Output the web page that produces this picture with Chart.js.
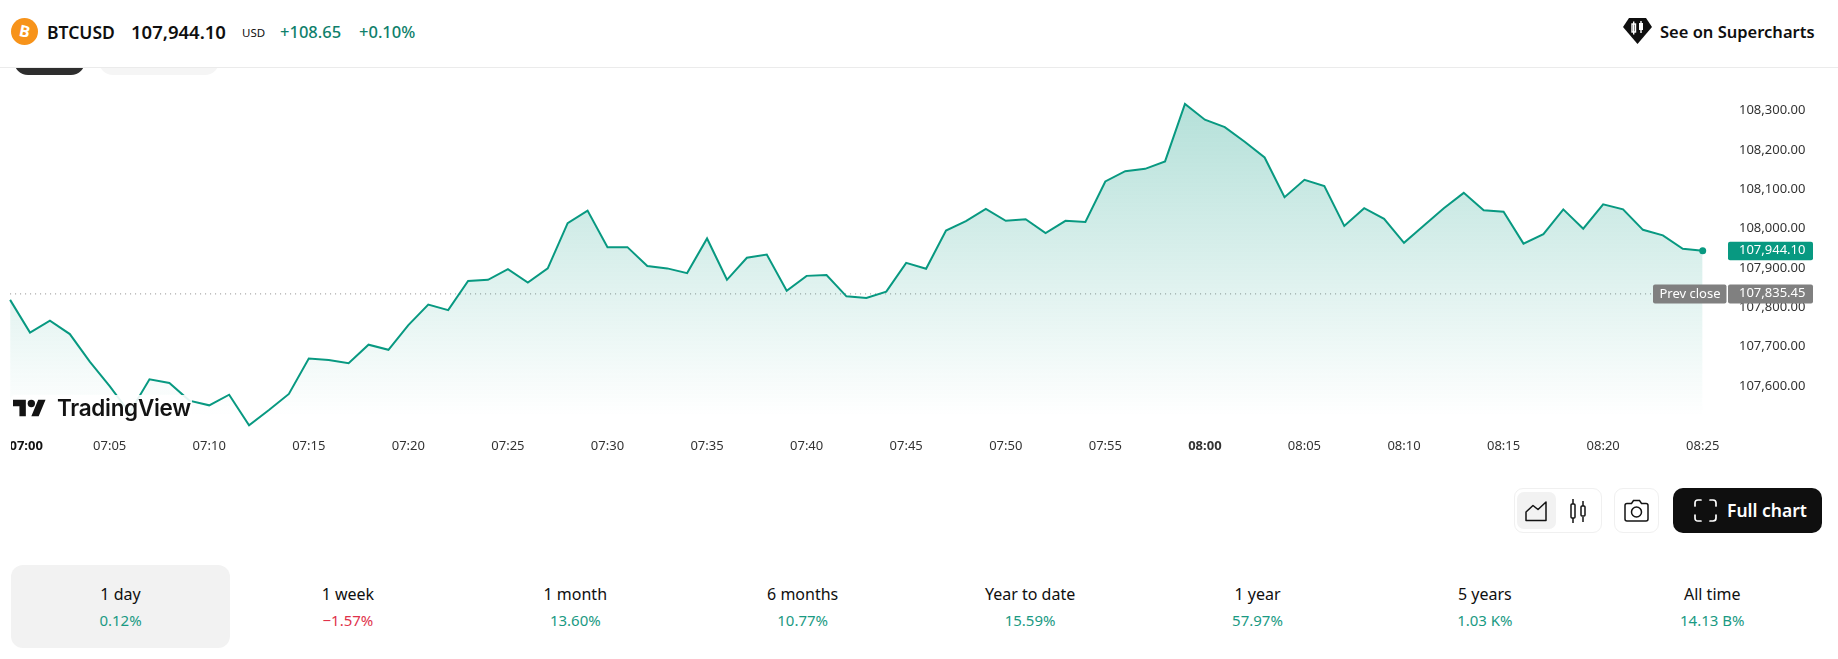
<!DOCTYPE html>
<html>
<head>
<meta charset="utf-8">
<title>BTCUSD</title>
<script src="https://cdn.jsdelivr.net/npm/chart.js@4"></script>
<style>
html, body { margin: 0; padding: 0; background: #fff; overflow: hidden; }
body { width: 1838px; height: 659px; position: relative; font-family: "Noto Sans", sans-serif; color: #0f0f0f; }
.abs { position: absolute; white-space: nowrap; }
#header { position: absolute; left: 0; top: 0; width: 1838px; height: 67px; background: #fff; border-bottom: 1px solid #ebebeb; z-index: 3; }
#chart { position: absolute; left: 0; top: 0; z-index: 1; }
.pill { position: absolute; top: 60px; height: 15px; border-radius: 0 0 14px 14px; }
#logo { position: absolute; left: 11px; top: 395px; width: 181px; height: 26px; background: rgba(255,255,255,.9); z-index: 2; border-radius: 4px; }
.group { position: absolute; top: 488px; height: 43px; border: 1px solid #f0f0f0; border-radius: 9px; background: #fff; }
.periods { position: absolute; left: 11px; top: 565px; display: flex; gap: 8.4px; }
.period { width: 219px; height: 83px; border-radius: 12px; text-align: center; }
.period.on { background: #f2f2f2; }
.period .name { margin-top: 17px; font-size: 16px; line-height: 24px; }
.period .pct { font-size: 15px; line-height: 24px; margin-top: 2px; }
</style>
</head>
<body>

<div class="pill" style="left:14px;width:71px;background:#2e2e2e"></div>
<div class="pill" style="left:99px;width:120px;background:#f5f5f5"></div>

<canvas id="chart" width="1838" height="480"></canvas>

<div id="header">
    <svg class="abs" style="left:11px;top:18px" width="27" height="27" viewBox="0 0 27 27">
        <circle cx="13.5" cy="13.5" r="13.5" fill="#f7931a"/>
        <text x="13.5" y="19" text-anchor="middle" font-size="16" font-weight="700" fill="#fff" font-family="Noto Sans" transform="rotate(12 13.5 13.5)">B</text>
    </svg>
    <span class="abs" style="left:47px;top:19px;font-size:17.5px;font-weight:600;line-height:26px">BTCUSD</span>
    <span class="abs" style="left:131px;top:19px;font-size:18.5px;font-weight:600;line-height:26px">107,944.10</span>
    <span class="abs" style="left:242px;top:24px;font-size:11.5px;line-height:18px">USD</span>
    <span class="abs" style="left:280px;top:19px;font-size:16.5px;font-weight:500;color:#0f7f6b;line-height:26px">+108.65</span>
    <span class="abs" style="left:359px;top:19px;font-size:16.5px;font-weight:500;color:#0f7f6b;line-height:26px">+0.10%</span>

    <svg class="abs" style="left:1623px;top:18px" width="29" height="26" viewBox="0 0 29 26">
        <path d="M6 0H23L29 9L14.500 26L0 9Z" fill="#0f0f0f"/>
        <rect x="9" y="6" width="3.500" height="8" fill="none" stroke="#fff" stroke-width="1.400"/>
        <path d="M10.700 3.500V16.500M18 3V15" stroke="#fff" stroke-width="1.400"/>
        <rect x="16" y="5" width="4" height="7" fill="#fff"/>
    </svg>
    <span class="abs" style="left:1660px;top:19px;font-size:16.5px;font-weight:600;line-height:26px">See on Supercharts</span>
</div>

<div id="logo">
    <svg class="abs" style="left:2px;top:1px" width="33" height="26" viewBox="0 0 36 28">
        <path d="M14 22H7V11H0V4h14v18zM28 22h-8l7.500-18h8L28 22z" fill="#131313"/>
        <circle cx="20" cy="8" r="4" fill="#131313"/>
    </svg>
    <span class="abs" style="left:46px;top:-2px;font-family:Inter;font-size:22.5px;font-weight:600;line-height:30px;color:#131313;letter-spacing:-.3px">TradingView</span>
</div>

<div class="group" style="left:1514px;width:86px"></div>
<div class="abs" style="left:1517px;top:492px;width:39px;height:37px;background:#f2f2f2;border-radius:7px"></div>
<svg class="abs" style="left:1524px;top:499px" width="24" height="24" viewBox="0 0 24 24" fill="none" stroke="#131313" stroke-width="1.500">
    <path d="M2 21.500V13L9 6.500L14 10.500L22 3V21.500Z" stroke-linejoin="round"/>
</svg>
<svg class="abs" style="left:1566px;top:498px" width="24" height="26" viewBox="0 0 24 26" fill="none" stroke="#131313" stroke-width="1.500">
    <rect x="5" y="6" width="4" height="14" rx="1"/>
    <path d="M7 1V6M7 20V25M17 3V8M17 19V24"/>
    <rect x="15" y="8" width="4" height="10" rx="1"/>
</svg>

<div class="group" style="left:1614px;width:43px"></div>
<svg class="abs" style="left:1624px;top:499px" width="25" height="24" viewBox="0 0 25 24" fill="none" stroke="#131313" stroke-width="1.500">
    <path d="M3 4.500H7.500L9.500 1.500H15.500L17.500 4.500H22Q24 4.500 24 6.500V20Q24 22 22 22H3Q1 22 1 20V6.500Q1 4.500 3 4.500Z"/>
    <circle cx="12.500" cy="13" r="5"/>
</svg>

<div class="abs" style="left:1673px;top:488px;width:149px;height:45px;background:#0f0f0f;border-radius:10px"></div>
<svg class="abs" style="left:1694px;top:499px" width="23" height="23" viewBox="0 0 23 23" fill="none" stroke="#fff" stroke-width="1.700" stroke-linecap="round">
    <path d="M1 7V4Q1 1 4 1H7M16 1H19Q22 1 22 4V7M22 16V19Q22 22 19 22H16M7 22H4Q1 22 1 19V16"/>
</svg>
<span class="abs" style="left:1727px;top:497px;font-size:17.5px;font-weight:600;color:#fff;line-height:26px">Full chart</span>

<div class="periods" id="periods"></div>

<script>
const times = [
    "07:00","07:01","07:02","07:03","07:04","07:05","07:06","07:07","07:08","07:09",
    "07:10","07:11","07:12","07:13","07:14","07:15","07:16","07:17","07:18","07:19",
    "07:20","07:21","07:22","07:23","07:24","07:25","07:26","07:27","07:28","07:29",
    "07:30","07:31","07:32","07:33","07:34","07:35","07:36","07:37","07:38","07:39",
    "07:40","07:41","07:42","07:43","07:44","07:45","07:46","07:47","07:48","07:49",
    "07:50","07:51","07:52","07:53","07:54","07:55","07:56","07:57","07:58","07:59",
    "08:00","08:01","08:02","08:03","08:04","08:05","08:06","08:07","08:08","08:09",
    "08:10","08:11","08:12","08:13","08:14","08:15","08:16","08:17","08:18","08:19",
    "08:20","08:21","08:22","08:23","08:24","08:25"
];

const prices = [
    107819, 107736, 107766, 107732, 107662, 107600, 107532, 107617, 107608, 107563,
    107551, 107578, 107500, 107539, 107580, 107670, 107666, 107658, 107705, 107692,
    107755, 107807, 107793, 107867, 107870, 107897, 107863, 107899, 108014, 108046,
    107953, 107953, 107905, 107899, 107887, 107975, 107870, 107926, 107934, 107842,
    107880, 107882, 107828, 107824, 107840, 107913, 107898, 107995, 108019, 108050,
    108020, 108024, 107989, 108020, 108017, 108120, 108146, 108152, 108171, 108317,
    108277, 108258, 108221, 108181, 108080, 108124, 108108, 108007, 108052, 108025,
    107964, 108008, 108052, 108091, 108047, 108043, 107962, 107986, 108049, 108000,
    108062, 108049, 107997, 107983, 107949, 107944.10
];

const priceTicks = [107600, 107700, 107800, 107900, 108000, 108100, 108200, 108300];
const timeTicks = [
    "07:00","07:05","07:10","07:15","07:20","07:25","07:30","07:35","07:40","07:45",
    "07:50","07:55","08:00","08:05","08:10","08:15","08:20","08:25"
];

const lastPrice = 107944.10;
const prevClose = 107835.45;

const periodNames = ["1 day", "1 week", "1 month", "6 months", "Year to date", "1 year", "5 years", "All time"];
const periodValues = ["0.12%", "\u22121.57%", "13.60%", "10.77%", "15.59%", "57.97%", "1.03 K%", "14.13 B%"];

const GREEN = '#089981';
const FONT = '"Noto Sans", sans-serif';

function fmt(v) {
    return v.toLocaleString('en-US', { minimumFractionDigits: 2, maximumFractionDigits: 2 });
}

function areaFill(ctx) {

    const area = ctx.chart.chartArea;
    if (!area) return 'transparent';

    const g = ctx.chart.ctx.createLinearGradient(0, area.top + 36, 0, area.bottom - 16);
    g.addColorStop(0, 'rgba(8,153,129,0.30)');
    g.addColorStop(1, 'rgba(8,153,129,0)');
    return g;
}

function pill(c, x, y, w, h, color) {
    c.fillStyle = color;
    c.beginPath();
    c.roundRect(x, y, w, h, 2);
    c.fill();
}

const overlay = {
    id: 'overlay',

    beforeDatasetsDraw(chart) {
        const c = chart.ctx;
        const y = chart.scales.y.getPixelForValue(prevClose);

        c.save();
        c.strokeStyle = '#8a8a8a';
        c.lineWidth = 1;
        c.setLineDash([1, 4]);
        c.beginPath();
        c.moveTo(chart.chartArea.left, y + 0.5);
        c.lineTo(1653, y + 0.5);
        c.stroke();
        c.restore();
    },

    afterDraw(chart) {
        const c = chart.ctx;
        const ys = chart.scales.y;

        c.save();
        c.font = '13px ' + FONT;
        c.textBaseline = 'middle';
        c.textAlign = 'left';

        const lastY = ys.getPixelForValue(lastPrice);
        pill(c, 1728, lastY - 9, 85, 18.500, GREEN);
        c.fillStyle = '#fff';
        c.fillText(fmt(lastPrice), 1739, lastY);

        const prevY = ys.getPixelForValue(prevClose);
        pill(c, 1728, prevY - 9, 85, 19, '#808080');
        pill(c, 1653, prevY - 9, 73.500, 19, '#808080');
        c.fillStyle = '#fff';
        c.fillText(fmt(prevClose), 1739, prevY);
        c.fillText('Prev close', 1659.500, prevY + 1);

        // first time label sits clipped against the left edge of the plot
        c.beginPath();
        c.rect(11, 430, 60, 40);
        c.clip();
        c.font = 'bold 13px ' + FONT;
        c.fillStyle = '#131313';
        c.fillText(timeTicks[0], 9.500, 446);
        c.restore();
    }
};

new Chart(
    document.getElementById('chart'),
    {
        type: 'line',

        data: {
            labels: times,
            datasets: [{
                data: prices,
                borderColor: GREEN,
                borderWidth: 2,
                tension: 0,
                fill: 'start',
                backgroundColor: areaFill,
                clip: false,
                pointRadius: ctx => ctx.dataIndex === prices.length - 1 ? 3.500 : 0,
                pointBackgroundColor: GREEN,
                pointBorderWidth: 0
            }]
        },

        options: {
            responsive: false,
            animation: false,
            layout: {
                autoPadding: false,
                padding: { left: 10.100, top: 68, right: 0, bottom: 0 }
            },

            plugins: {
                legend: { display: false },
                tooltip: { enabled: false }
            },

            scales: {
                x: {
                    type: 'category',
                    offset: false,
                    border: { display: false },
                    grid: { display: false, drawTicks: false },
                    afterFit: s => { s.height = 48; },
                    afterBuildTicks: s => {
                        s.ticks = s.ticks.filter(t => timeTicks.includes(times[t.value]));
                    },
                    ticks: {
                        autoSkip: false,
                        maxRotation: 0,
                        padding: 6,
                        color: '#333',
                        callback: function (value) {
                            return times[value] === timeTicks[0] ? '' : times[value];
                        },
                        font: ctx => ({
                            family: FONT,
                            size: 13,
                            weight: ctx.tick && ctx.tick.label === '08:00' ? 'bold' : 'normal'
                        })
                    }
                },

                y: {
                    position: 'right',
                    min: 107483.2,
                    max: 108408.3,
                    border: { display: false },
                    grid: { display: false, drawTicks: false },
                    afterFit: s => { s.width = 135.300; },
                    afterBuildTicks: s => {
                        s.ticks = priceTicks.map(v => ({ value: v }));
                    },
                    ticks: {
                        padding: 36.300,
                        color: '#333',
                        font: { family: FONT, size: 13 },
                        callback: v => fmt(v)
                    }
                }
            }
        },

        plugins: [overlay]
    }
);

const box = document.getElementById('periods');

periodNames.forEach((name, i) => {

    const el = document.createElement('div');
    el.className = 'period' + (i === 0 ? ' on' : '');

    const color = periodValues[i].startsWith('\u2212') ? '#e0324a' : '#1a9a83';
    el.innerHTML = '<div class="name">' + name + '</div>'
        + '<div class="pct" style="color:' + color + '">' + periodValues[i] + '</div>';

    box.appendChild(el);
});
</script>
</body>
</html>
